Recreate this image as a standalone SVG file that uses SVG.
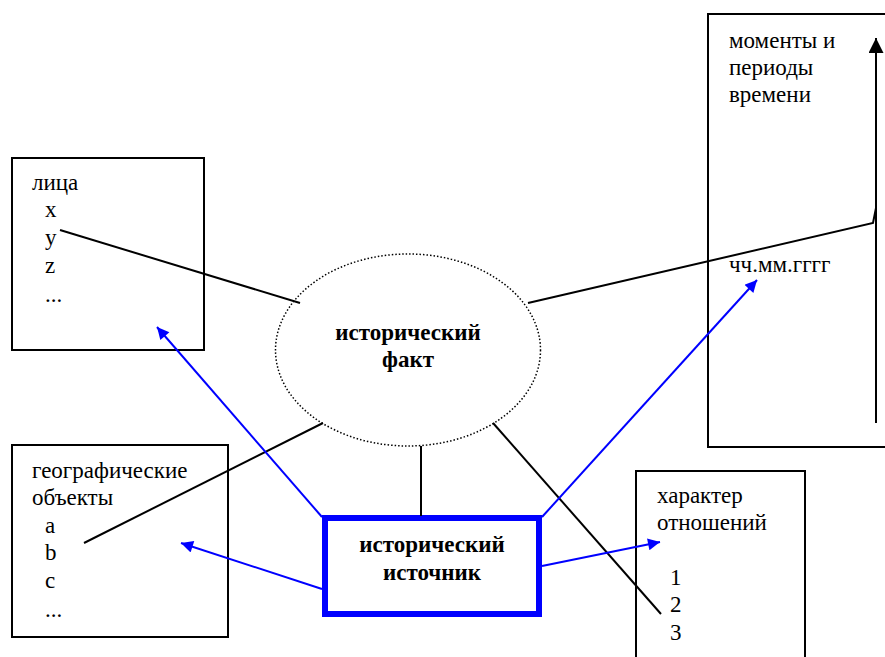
<svg xmlns="http://www.w3.org/2000/svg" width="885" height="657" viewBox="0 0 885 657" font-family="Liberation Serif, Times New Roman, DejaVu Serif, serif">
<defs>
<style>
.box{fill:#fff;stroke:#000;stroke-width:2}
.t{font-size:23px;fill:#000}
.b{font-size:23px;font-weight:bold;fill:#000;text-anchor:middle}
.k{stroke:#000;stroke-width:2;fill:none}
.bl{stroke:#0000ff;stroke-width:2;fill:none}
</style>
<marker id="ab" viewBox="0 0 10 10" refX="10" refY="5" markerWidth="14" markerHeight="12" markerUnits="userSpaceOnUse" orient="auto"><path d="M0,0 L10,5 L0,10 z" fill="#0000ff"/></marker>
<marker id="ak" viewBox="0 0 10 10" refX="10" refY="5" markerWidth="16" markerHeight="15" markerUnits="userSpaceOnUse" orient="auto"><path d="M0,0 L10,5 L0,10 z" fill="#000"/></marker>
</defs>
<rect width="885" height="657" fill="#fff"/>
<g id="node-time">
<rect class="box" x="708" y="14" width="190" height="433"/>
<text class="t" x="729" y="48">моменты и</text>
<text class="t" x="729" y="75">периоды</text>
<text class="t" x="729" y="102">времени</text>
<text class="t" x="729" y="272">чч.мм.гггг</text>
</g>
<g id="node-persons">
<rect class="box" x="12" y="158" width="192" height="192"/>
<text class="t" x="32" y="190">лица</text>
<text class="t" x="45" y="217">x</text>
<text class="t" x="45" y="245">y</text>
<text class="t" x="45" y="273">z</text>
<text class="t" x="45" y="302">...</text>
</g>
<g id="node-geo">
<rect class="box" x="12" y="445" width="216" height="192"/>
<text class="t" x="32" y="478">географические</text>
<text class="t" x="32" y="505">объекты</text>
<text class="t" x="45" y="533">a</text>
<text class="t" x="45" y="560">b</text>
<text class="t" x="45" y="588">c</text>
<text class="t" x="45" y="617">...</text>
</g>
<g id="node-relations">
<rect class="box" x="636" y="471" width="169" height="200"/>
<text class="t" x="657" y="503">характер</text>
<text class="t" x="657" y="530">отношений</text>
<text class="t" x="670" y="585">1</text>
<text class="t" x="670" y="612">2</text>
<text class="t" x="670" y="640">3</text>
</g>
<g id="node-fact">
<ellipse cx="408" cy="350" rx="132.5" ry="96" fill="#fff" stroke="#000" stroke-width="1.5" stroke-dasharray="1.5,2"/>
<text class="b" x="408" y="340">исторический</text>
<text class="b" x="408" y="367">факт</text>
</g>
<g id="node-source">
<rect x="325" y="518" width="214" height="96" fill="#fff" stroke="#0000ff" stroke-width="6"/>
<text class="b" x="432" y="552">исторический</text>
<text class="b" x="432" y="580">источник</text>
</g>
<g id="connectors">
<line class="k" x1="60" y1="230" x2="300" y2="303"/>
<polyline class="k" points="528,303 873,223 876,208"/>
<line class="k" x1="876" y1="423" x2="876" y2="38" marker-end="url(#ak)"/>
<line class="k" x1="84" y1="543" x2="323" y2="423"/>
<line class="k" x1="421" y1="446" x2="421" y2="516"/>
<line class="k" x1="493" y1="423" x2="661" y2="614"/>
<line class="bl" x1="322" y1="517" x2="157" y2="327" marker-end="url(#ab)"/>
<line class="bl" x1="322" y1="589" x2="181" y2="543" marker-end="url(#ab)"/>
<line class="bl" x1="542" y1="517" x2="757" y2="280" marker-end="url(#ab)"/>
<line class="bl" x1="542" y1="566" x2="660" y2="542" marker-end="url(#ab)"/>
</g>
</svg>
